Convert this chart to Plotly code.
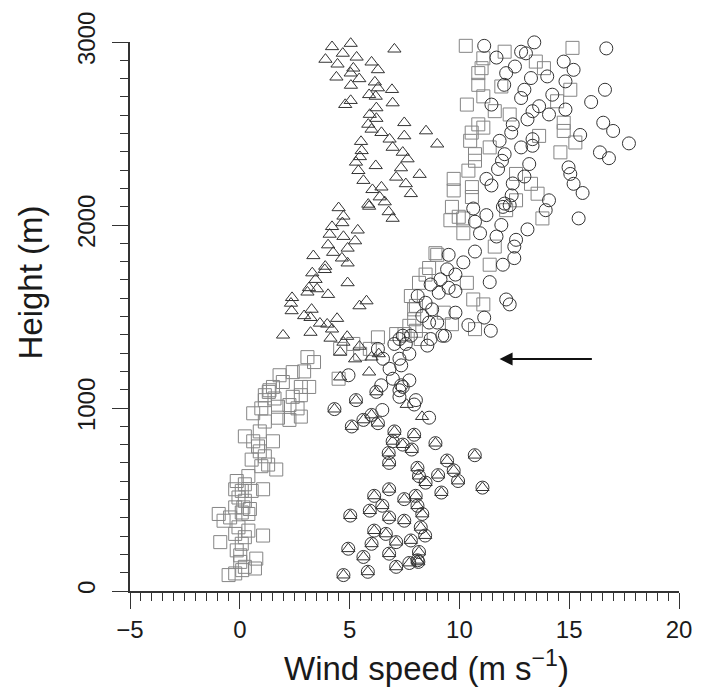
import plotly.graph_objects as go

# ---- data (wind speed in m/s, height in m) ----
tri_upper_x = [3.15,4.20,5.05,7.04,4.69,3.90,4.45,5.32,6.00,6.29,5.17,4.40,5.05,5.44,5.06,6.15,6.29,6.93,5.89,6.19,
               6.96,5.05,4.80,6.22,5.92,6.22,5.85,6.00,6.45,7.49,8.48,8.99,7.49,6.82,6.96,7.42,7.64,5.52,5.55,5.47,
               5.29,6.19,5.40,7.34,7.12,8.19,5.63,7.56,6.45,6.04,7.79,6.37,6.60,5.85,4.50,6.78,4.72,6.96,
               5.89,4.20,4.67,5.37,4.09,4.72,5.25,4.02,4.91,4.25,3.35,4.65,4.91,3.89,3.87,3.30,3.45,4.91,3.15,3.52,
               4.02,3.08,5.77,5.45,2.38,2.33,2.36,3.27,2.93,3.22,4.43,3.65,3.98,4.20,3.22,1.97,4.13,4.89,4.72,4.57,
               5.45,5.25,6.00,5.89,4.57,6.33,7.60,8.30]
tri_upper_y = [3001,2974,2992,2961,2938,2905,2879,2917,2890,2848,2857,2808,2830,2799,2763,2781,2749,2740,2712,2703,
               2667,2680,2658,2640,2604,2582,2550,2523,2505,2559,2514,2442,2487,2469,2424,2397,2361,2456,2406,2373,
               2343,2324,2297,2312,2261,2276,2243,2225,2207,2193,2171,2153,2126,2113,2094,2072,2048,2036,
               2102,1991,2012,1972,1949,1937,1913,1891,1873,1850,1832,1819,1792,1774,1756,1738,1702,1684,1657,1651,
               1620,1633,1585,1558,1603,1572,1531,1539,1504,1494,1489,1463,1458,1431,1413,1398,1381,1391,1359,1305,
               1337,1268,1278,1196,1169,1296,1019,953]

# lower layer where the triangle and circle soundings coincide
low_x = [4.31,5.29,6.22,5.63,5.10,6.00,6.29,7.04,7.94,8.91,6.96,7.42,7.83,6.78,6.80,8.09,8.16,8.46,9.03,6.80,
         6.12,6.49,5.92,7.49,8.01,8.09,8.31,6.80,7.49,5.03,6.12,6.65,7.12,7.79,8.44,6.00,4.94,5.63,6.80,7.72,
         8.09,7.12,5.83,4.72,10.70,9.44,9.74,9.94,11.05,9.18,8.24,8.16,8.13]
low_y = [994,1043,1088,935,899,962,917,872,854,808,818,800,773,754,700,673,628,592,633,556,
         520,466,439,502,520,466,421,402,384,412,330,312,267,276,303,258,231,186,204,153,
         168,132,105,87,742,713,659,601,565,538,348,213,159]

circ_upper_x = [6.49,7.27,7.94,8.62,7.42,
                8.46,8.76,8.10,8.31,8.62,7.79,9.22,8.54,7.27,7.04,6.29,6.52,6.82,7.27,6.97,7.72,6.44,7.27,4.95,
                10.63,11.23,11.98,13.93,15.43,10.71,11.91,13.10,10.94,11.69,12.58,10.71,12.50,12.50,11.98,9.51,10.18,
                9.44,9.82,9.14,8.69,9.51,9.82,9.06,11.38,12.13,12.29,9.82,8.99,9.34,10.41,11.13,11.43,8.69,7.72,7.35,
                7.35,8.02,7.42,7.56,
                11.13,12.21,13.41,16.69,11.69,12.81,13.03,12.53,12.13,14.75,15.20,14.00,13.26,14.83,16.63,16.00,12.04,
                12.96,14.23,12.81,11.46,13.63,13.33,14.83,14.08,13.10,12.43,12.36,16.55,17.00,17.72,16.40,16.81,15.50,
                11.83,13.33,12.81,13.33,12.06,11.94,11.76,13.18,12.96,11.23,11.46,12.43,14.97,15.05,15.20,15.61,12.38,
                14.08,12.29,12.06]
circ_upper_y = [989,1061,1019,947,1115,
                1575,1539,1612,1503,1467,1395,1395,1341,1377,1350,1323,1269,1214,1269,1160,1151,1124,1097,1179,
                2090,2054,2099,2081,2036,2018,2000,1976,1955,1937,1919,1855,1882,1819,1783,1837,1796,
                1758,1729,1703,1675,1657,1639,1630,1688,1593,1566,1521,1467,1395,1453,1494,1422,1377,1296,1233,
                1124,1043,1395,1350,
                2979,3010,2998,2965,2915,2947,2938,2866,2830,2893,2848,2812,2803,2785,2739,2672,2766,
                2739,2712,2694,2658,2649,2622,2631,2604,2577,2550,2505,2559,2514,2446,2397,2365,2492,
                2460,2469,2424,2433,2387,2351,2306,2333,2265,2252,2216,2227,2315,2279,2225,2175,2162,
                2135,2108,2117]

sq_x = [10.29,11.83,12.43,15.15,11.09,11.01,10.86,12.06,13.48,13.85,10.86,11.91,11.09,10.34,15.05,14.45,11.61,12.29,
        10.86,11.09,10.56,13.63,14.75,14.75,10.49,11.38,15.28,14.60,10.71,10.71,10.41,12.58,9.74,9.74,10.57,13.26,
        13.56,10.57,12.58,9.66,12.13,9.97,
        9.59,10.18,10.18,13.78,8.99,8.62,8.16,7.79,7.94,7.94,10.34,10.63,11.09,11.38,9.66,10.71,9.29,11.61,8.02,8.24,
        3.08,3.38,2.93,2.41,1.81,1.96,1.35,1.14,3.16,2.78,4.50,4.57,5.17,6.29,5.92,5.48,7.12,8.91,8.46,8.02,7.72,7.50,
        1.51,2.78,1.32,1.14,1.58,2.41,0.61,0.98,1.74,2.26,2.63,1.14,1.74,2.26,2.78,0.91,0.23,0.61,1.51,0.83,
        0.91,0.54,1.14,1.29,1.66,0.98,0.39,-0.14,0.23,0.09,0.54,1.06,-0.21,-0.06,0.23,0.46,0.16,-0.21,-0.96,-0.74,
        -0.44,0.09,0.39,-0.06,0.39,1.06,0.23,-0.21,-0.89,0.09,-0.14,0.02,0.75,0.69,0.23,0.02,-0.51,-0.21,0.11]
sq_y = [2979,3010,3001,2968,2911,2857,2830,2947,2893,2857,2766,2757,2703,2658,2739,2676,2622,2604,
        2550,2532,2505,2487,2559,2514,2460,2424,2451,2397,2387,2351,2297,2279,2252,2189,2207,2225,
        2171,2153,2135,2099,2081,2045,
        2026,2036,1955,2036,1837,1765,1684,1612,1539,1485,1684,1593,1566,1783,1458,1431,1521,1882,1422,1377,
        1278,1251,1200,1196,1179,1142,1097,1070,1115,1070,1160,1323,1350,1386,1323,1296,1404,1846,1729,1558,1449,1404,
        1115,1115,1088,1043,1052,1061,971,998,1007,1016,998,926,947,935,953,872,845,818,818,790,
        763,718,736,691,664,682,628,601,583,547,547,556,556,511,493,448,457,457,421,384,
        402,429,421,348,330,303,294,312,267,258,222,195,177,123,132,159,87,96,114]

x_ticks = [-5, 0, 5, 10, 15, 20]
y_ticks = [0, 1000, 2000, 3000]
x_title = "Wind speed (m s<sup>−1</sup>)"
y_title = "Height (m)"

FONT = "Liberation Sans, Arial, sans-serif"
INK = "#1a1a1a"

fig = go.Figure()
fig.add_trace(go.Scatter(x=sq_x, y=sq_y, mode="markers", cliponaxis=False,
                         marker=dict(symbol="square-open", size=13, color="#858585", line=dict(width=1))))
fig.add_trace(go.Scatter(x=tri_upper_x + low_x, y=tri_upper_y + low_y, mode="markers", cliponaxis=False,
                         marker=dict(symbol="triangle-up-open", size=11.5, color="#333333", line=dict(width=1))))
fig.add_trace(go.Scatter(x=circ_upper_x + low_x, y=circ_upper_y + low_y, mode="markers", cliponaxis=False,
                         marker=dict(symbol="circle-open", size=13, color="#333333", line=dict(width=1))))

# arrow marking the height where the profiles separate
fig.add_annotation(x=11.83, y=1268, ax=16.10, ay=1268, axref="x", ayref="y", xref="x", yref="y",
                   text="", showarrow=True, arrowhead=2, arrowsize=1.3, arrowwidth=2, arrowcolor="#111111")

# axis titles (placed as annotations to match the original offsets)
fig.add_annotation(text=x_title, xref="paper", yref="paper", x=0.54, y=-0.137,
                   xanchor="center", yanchor="middle", showarrow=False,
                   font=dict(size=33, family=FONT, color=INK))
fig.add_annotation(text=y_title, xref="paper", yref="paper", x=-0.183, y=0.561, textangle=-90,
                   xanchor="center", yanchor="middle", showarrow=False,
                   font=dict(size=33, family=FONT, color=INK))

fig.update_layout(
    width=704, height=689,
    margin=dict(l=130, r=17, t=37, b=98),
    paper_bgcolor="white", plot_bgcolor="white",
    showlegend=False,
    font=dict(family=FONT, color=INK),
    xaxis=dict(range=[-5, 20], tickvals=x_ticks, ticks="outside", ticklen=16, tickwidth=1.2,
               tickcolor="#333", showline=True, linecolor="#333", linewidth=1.5,
               showgrid=False, zeroline=False, tickfont=dict(size=24, family=FONT, color=INK),
               minor=dict(dtick=0.5, tick0=0, ticks="outside", ticklen=8, tickwidth=1, tickcolor="#333", showgrid=False)),
    yaxis=dict(range=[0, 3000], tickvals=y_ticks, ticks="outside", ticklen=16, tickwidth=1.2,
               tickcolor="#333", showline=True, linecolor="#333", linewidth=1.5, tickangle=-90,
               showgrid=False, zeroline=False, tickfont=dict(size=24, family=FONT, color=INK),
               ticklabelstandoff=8,
               minor=dict(dtick=100, tick0=0, ticks="outside", ticklen=8, tickwidth=1, tickcolor="#333", showgrid=False)),
)

fig.write_html("out.html")
